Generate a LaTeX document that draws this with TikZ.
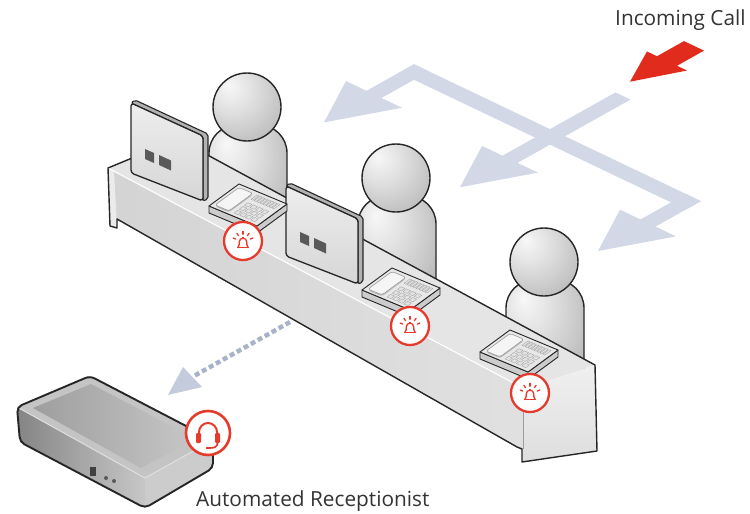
\documentclass[tikz,border=0pt]{standalone}
\usepackage{fontspec}
\setmainfont{Open Sans}
\definecolor{flow}{RGB}{210,216,230}
\definecolor{callred}{RGB}{225,43,28}
\definecolor{iconred}{RGB}{229,58,44}
\definecolor{ink}{RGB}{38,38,38}
\definecolor{labelgray}{RGB}{51,51,51}
\definecolor{dotflow}{RGB}{168,178,200}
\definecolor{dothead}{RGB}{196,203,220}
\pgfdeclareradialshading{personball}{\pgfpoint{-14bp}{16bp}}{color(0bp)=(white!97!black); color(14bp)=(white!89!black); color(34bp)=(white!76!black); color(50bp)=(white!62!black); color(75bp)=(white!58!black)}
\tikzset{
  personskin/.style={shading=personball, draw=ink, line width=1.4},
  outline/.style={draw=ink, line width=1.4, line join=round},
  monface/.style={top color=white!93!black, bottom color=white!84!black, draw=ink, line width=1.3, rounded corners=3},
  monback/.style={fill=white!70!black, draw=ink, line width=1.1, rounded corners=2},
  monkey/.style={fill=white!35!black},
  phoneside/.style={fill=white!80!black, draw=ink, line width=0.9},
  phonetop/.style={fill=white!91!black, draw=ink, line width=0.9},
  handset/.style={fill=white!96!black, draw=white!60!black, line width=0.6},
  phonekey/.style={fill=white!89!black, draw=white!66!black, line width=0.4},
  lbl/.style={font=\fontsize{20.8}{24}\selectfont, text=labelgray, inner sep=0pt},
}
% one ribbon arrow of the floor plane: centre u, start v, tip v
\newcommand\flowarrow[3]{%
  \fill[flow] ({#1-7.5},#2) -- ({#1+7.5},#2) -- ({#1+7.5},{#3-50}) -- ({#1+28},{#3-50})
    -- (#1,#3) -- ({#1-28},{#3-50}) -- ({#1-7.5},{#3-50}) -- cycle;}
% agent figure: head centre
\newcommand\drawperson[2]{%
  \shadedraw[personskin, rounded corners=28] ({#1-38},{#2+120}) -- ({#1-38},{#2+18})
    -- ({#1+40},{#2+18}) -- ({#1+40},{#2+120});
  \shadedraw[personskin] (#1,#2) circle[radius=34];}
% flat screen: top-left corner
\newcommand\monitorat[2]{%
  \begin{scope}[shift={(#1,#2)}]
    \filldraw[monback] (0,0) -- (4,-3) -- (77,31) -- (77,96) -- (72,98) -- (72,33) -- cycle;
    \shadedraw[monface] (0,0) -- (72,33) -- (72,98) -- (0,70) -- cycle;
    \fill[monkey] (14,46) -- (23,50) -- (23,60) -- (14,56) -- cycle;
    \fill[monkey] (28,52) -- (40,57.5) -- (40,67.5) -- (28,62) -- cycle;
  \end{scope}}
% desk phone: left corner of its top face
\newcommand\phoneat[2]{%
  \begin{scope}[shift={(#1,#2)}, x={(1pt,-0.4167pt)}, y={(1pt,0.7333pt)}]
    \filldraw[phoneside] (0,0) -- ([yshift=-7pt]0,0) -- ([yshift=-7pt]48,0)
      -- ([yshift=-7pt]48,30) -- (48,30) -- (48,0) -- cycle;
    \filldraw[phonetop] (0,0) -- (48,0) -- (48,30) -- (0,30) -- cycle;
    \fill[white!74!black, rounded corners=2.5] ([yshift=-1.5pt]3,3) -- ([yshift=-1.5pt]17,3)
      -- ([yshift=-1.5pt]17,27) -- ([yshift=-1.5pt]3,27) -- cycle;
    \filldraw[handset, rounded corners=2.5] (3,3) -- (17,3) -- (17,27) -- (3,27) -- cycle;
    \foreach \i in {0,...,3}{\foreach \j in {0,1,2}{
      \draw[phonekey] ({22+\i*5.6},{3+\j*5.2}) -- ++(4,0) -- ++(0,3.6) -- ++(-4,0) -- cycle;}}
    \foreach \i in {0,...,7}{
      \draw[phonekey] ({21+\i*3},21) -- ++(2,0) -- ++(0,6) -- ++(-2,0) -- cycle;}
  \end{scope}}
% ringing badge
\newcommand\bellicon[2]{%
  \begin{scope}[shift={(#1,#2)}, yscale=-1]
    \filldraw[fill=white, draw=iconred, line width=2.3] (0,0) circle[radius=19];
    \draw[iconred, line width=1.3] (-5.8,-6.5) -- (5.8,-6.5);
    \draw[iconred, line width=1.3] (-5.2,-6.5) .. controls (-3.6,-5) and (-3.8,-3) .. (-3.8,-1)
      .. controls (-3.8,4) and (3.8,4) .. (3.8,-1) .. controls (3.8,-3) and (3.6,-5) .. (5.2,-6.5);
    \draw[iconred, line width=1.3] (0,2.9) -- (0,4.3);
    \foreach \a in {22,55,90,125,158}
      \draw[iconred, line width=1.3, line cap=round] ($(0,-1)+(\a:7.8)$) -- ($(0,-1)+(\a:10.6)$);
  \end{scope}}
\usetikzlibrary{calc}
\begin{document}
\begin{tikzpicture}[x=1pt, y=-1pt, line join=round]
\useasboundingbox (0,0) rectangle (750,514);

% call routing ribbon lying on the floor plane
\begin{scope}[shift={(414,72)}, x={(1pt,-0.477pt)}, y={(-1pt,-0.56pt)}]
  \fill[flow] (-7.5,-7.5) -- (279.5,-7.5) -- (279.5,7.5) -- (-7.5,7.5) -- cycle;
  \flowarrow{0}{-7.5}{90}
  \flowarrow{272}{-7.5}{88}
  \flowarrow{136}{-73}{90}
  \fill[callred] (116,-154) -- (136,-154) -- (136,-127) -- (146,-127) -- (126,-90)
    -- (106,-127) -- (116,-127) -- cycle;
\end{scope}

% agents behind the desk
\drawperson{247}{107}
\drawperson{396}{178}
\drawperson{544}{262}

% desk
\coordinate (FL) at (108,168);
\coordinate (BL) at (178,139);
\coordinate (BR) at (595,365);
\coordinate (FR) at (523,388);
\fill[white!90!black] (FL) -- (BL) -- (BR) -- (FR) -- cycle;
\shade[left color=white!83!black, right color=white!88!black]
  (FL) -- (FR) -- (523,449) -- (517,447) -- (117,219) -- (117,228) -- (110,226) -- cycle;
\fill[white!92!black] (FL) -- (114,171) -- (117,228) -- (110,226) -- cycle;
\shade[top color=white!94!black, bottom color=white!87!black]
  (FR) -- (BR) -- (597,451) -- (522,462) -- (522,449) -- (523,449) -- cycle;
\draw[white, line width=1.1] (FL) -- (FR);
\draw[white!62!black, line width=0.6] (FR) -- (523,449);
\draw[outline] (FL) -- (BL) -- (BR) -- (597,451) -- (522,462) -- (522,449) -- (517,447)
  -- (117,219) -- (117,228) -- (110,226) -- cycle;

% screens and phones on the desk
\monitorat{131}{103}
\monitorat{286}{186}
\phoneat{209}{206}
\phoneat{362}{290}
\phoneat{480}{352}
\bellicon{243}{241}
\bellicon{410}{326}
\bellicon{530}{393}

% automated receptionist unit
\fill[white!77!black] (17,407) -- (90,376) -- (213,440) -- (145,478) -- cycle;
\shade[left color=white!62!black, right color=white!78!black]
  (33,408) -- (91,384) -- (196,439) -- (141,468) -- cycle;
\shade[left color=white!52!black, right color=white!78!black]
  (17,407) -- (145,478) -- (145,508) -- (20,442) -- cycle;
\fill[white!80!black] (145,478) -- (213,440) -- (213,468) -- (145,508) -- cycle;
\draw[white!88!black, line width=1] (17,407) -- (145,478) -- (213,440);
\draw[draw=ink, line width=1.9, rounded corners=5] (17,407) -- (90,376) -- (213,440)
  -- (213,468) -- (145,508) -- (20,442) -- cycle;
\fill[white!25!black] (90,467) rectangle (96,476);
\fill[white!35!black] (106,478) circle[radius=2];
\fill[white!35!black] (114,481) circle[radius=2];
\begin{scope}[shift={(208,433)}, yscale=-1]
  \filldraw[fill=white, draw=iconred, line width=2.6] (0,0) circle[radius=22];
  \draw[iconred, line width=2] (-9,-3) -- (-9,1) arc[start angle=180, end angle=0, radius=9] -- (9,-3);
  \fill[iconred, rounded corners=1.2] (-12,-10) rectangle (-7,0);
  \fill[iconred, rounded corners=1.2] (7,-10) rectangle (12,0);
  \draw[iconred, line width=1.6] (9.5,-10) .. controls (9.5,-14) and (6,-15) .. (2,-15);
  \fill[iconred] (-2.5,-16.3) rectangle (2.5,-13.7);
\end{scope}

% hand-off from the desk to the receptionist
\coordinate (deskout) at (290,322);
\coordinate (handoff) at (194,376);
\draw[dotflow, line width=4.5, dash pattern=on 5 off 3] (deskout) -- (handoff);
\fill[dothead] (168,395) -- (183,367) -- (202,387) -- cycle;

% captions
\node[lbl, anchor=base west] (incall) at (615,25) {Incoming Call};
\node[lbl, anchor=base west] (autorecep) at (196,506) {Automated Receptionist};
\end{tikzpicture}
\end{document}
